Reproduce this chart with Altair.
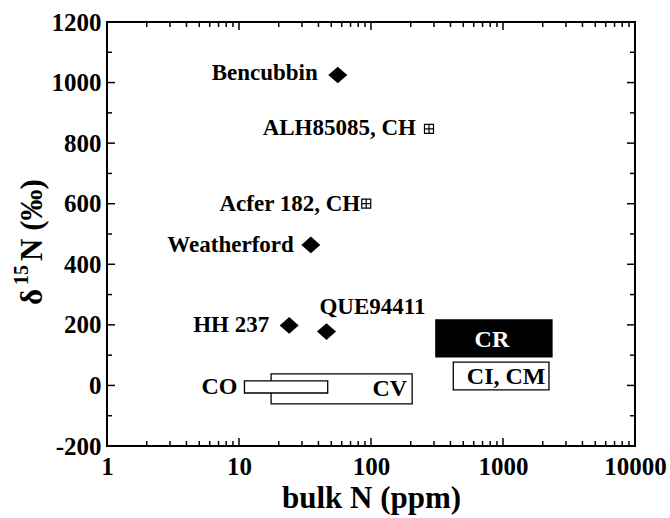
import altair as alt
import pandas as pd

# Individual meteorites: bulk nitrogen (ppm) and delta-15N (permil)
met_names = ["Bencubbin", "ALH85085, CH", "Acfer 182, CH", "Weatherford", "HH 237", "QUE94411"]
met_bulk_n = [56, 275, 92, 35, 24, 46]
met_d15n = [1025, 847, 600, 464, 198, 178]
met_class = ["CB", "CH", "CH", "CB", "CB", "CB"]

# Chondrite group fields: ranges of bulk N and delta-15N
grp_names = ["CV", "CO", "CI, CM", "CR"]
grp_n_min = [17.5, 11, 420, 310]
grp_n_max = [205, 47, 2230, 2350]
grp_d_min = [-61, -25, -15, 94]
grp_d_max = [38, 15, 77, 216]

# Axis ticks
x_major = [1, 10, 100, 1000, 10000]
x_minor = [m * 10 ** e for e in range(4) for m in range(2, 10)]
y_major = list(range(-200, 1201, 200))
y_minor = list(range(-100, 1200, 200))

met_df = pd.DataFrame({"name": met_names, "n": met_bulk_n, "d": met_d15n, "cls": met_class})
grp_df = pd.DataFrame({"group": grp_names, "n_min": grp_n_min, "n_max": grp_n_max,
                       "d_min": grp_d_min, "d_max": grp_d_max})
grp_df["n_mid"] = (grp_df["n_min"] * grp_df["n_max"]) ** 0.5
grp_df["d_mid"] = (grp_df["d_min"] + grp_df["d_max"]) / 2

W, H = 528, 424
FONT = "Liberation Serif"

xs = alt.Scale(type="log", domain=[1, 10000], nice=False)
ys = alt.Scale(domain=[-200, 1200], nice=False, zero=False)

x_axis = alt.Axis(values=x_major, labelExpr="'' + datum.value", ticks=False, domain=False,
                  grid=False, labelFont=FONT, labelFontWeight="bold", labelFontSize=25,
                  labelColor="black", labelPadding=8, labelFlush=False, labelOverlap=False,
                  title="bulk N (ppm)", titleFont=FONT, titleFontWeight="bold",
                  titleFontSize=31, titleColor="black", titleX=264, titleY=61,
                  titleAlign="center", titleBaseline="alphabetic")
y_axis = alt.Axis(values=y_major, labelExpr="'' + datum.value", ticks=False, domain=False,
                  grid=False, labelFont=FONT, labelFontWeight="bold", labelFontSize=25,
                  labelColor="black", labelPadding=6, labelOverlap=False, title=None)


def xq(field):
    return alt.X(f"{field}:Q", scale=xs, axis=x_axis)


def yq(field):
    return alt.Y(f"{field}:Q", scale=ys, axis=y_axis)


layers = []

# Group fields (CO drawn over CV)
layers.append(
    alt.Chart(grp_df).transform_filter(alt.datum.group != "CR")
    .mark_rect(fill="white", stroke="black", strokeWidth=1.3)
    .encode(x=xq("n_min"), x2=alt.X2("n_max:Q"), y=yq("d_min"), y2=alt.Y2("d_max:Q"))
)
layers.append(
    alt.Chart(grp_df).transform_filter(alt.datum.group == "CR")
    .mark_rect(fill="black", stroke="black", strokeWidth=1.3)
    .encode(x=xq("n_min"), x2=alt.X2("n_max:Q"), y=yq("d_min"), y2=alt.Y2("d_max:Q"))
)

# Meteorite symbols
DIAMOND = "M-1,0L0,-0.88L1,0L0,0.88Z"
BOXPLUS = "M-1,-1H1V1H-1ZM0,-1V1M-1,0H1"
layers.append(
    alt.Chart(met_df).transform_filter(alt.datum.cls != "CH")
    .mark_point(shape=DIAMOND, size=361, filled=True, color="black", opacity=1, strokeWidth=0)
    .encode(x=xq("n"), y=yq("d"))
)
layers.append(
    alt.Chart(met_df).transform_filter(alt.datum.cls == "CH")
    .mark_point(shape=BOXPLUS, size=81, filled=False, color="black", opacity=1, strokeWidth=1.2)
    .encode(x=xq("n"), y=yq("d"))
)

# Meteorite labels: (dx, dy, align)
met_label_style = {
    "Bencubbin": (-20, -2, "right"),
    "ALH85085, CH": (-13, -1, "right"),
    "Acfer 182, CH": (-6, 0, "right"),
    "Weatherford": (-17, 0, "right"),
    "HH 237": (-20, 0, "right"),
    "QUE94411": (-7, -25, "left"),
}
for nm, (dx, dy, al) in met_label_style.items():
    layers.append(
        alt.Chart(met_df).transform_filter(alt.datum.name == nm)
        .mark_text(dx=dx, dy=dy, align=al, baseline="middle", font=FONT, fontWeight="bold",
                   fontSize=23, color="black")
        .encode(x=xq("n"), y=yq("d"), text="name:N")
    )

# Group labels: (x field, dx, dy, align, colour)
grp_label_style = {
    "CO": ("n_min", -7, 0, "right", "black"),
    "CV": ("n_max", -5, 0, "right", "black"),
    "CR": ("n_mid", -2, 2, "center", "white"),
    "CI, CM": ("n_mid", 5, 1, "center", "black"),
}
for g, (xf, dx, dy, al, col) in grp_label_style.items():
    layers.append(
        alt.Chart(grp_df).transform_filter(alt.datum.group == g)
        .mark_text(dx=dx, dy=dy, align=al, baseline="middle", font=FONT, fontWeight="bold",
                   fontSize=24, color=col)
        .encode(x=xq(xf), y=yq("d_mid"), text="group:N")
    )

# Inward ticks on all four sides
MAJ, MIN = 8, 5
tick_sets = [(x_major, MAJ), (x_minor, MIN)]
for vals, ln in tick_sets:
    tdf = pd.DataFrame({"v": vals})
    layers.append(alt.Chart(tdf).mark_rule(color="black", strokeWidth=1.5)
                  .encode(x=xq("v"), y=alt.value(H), y2=alt.value(H - ln)))
    layers.append(alt.Chart(tdf).mark_rule(color="black", strokeWidth=1.5)
                  .encode(x=xq("v"), y=alt.value(0), y2=alt.value(ln)))
for vals, ln in [(y_major, MAJ), (y_minor, MIN)]:
    tdf = pd.DataFrame({"v": vals})
    layers.append(alt.Chart(tdf).mark_rule(color="black", strokeWidth=1.5)
                  .encode(y=yq("v"), x=alt.value(0), x2=alt.value(ln)))
    layers.append(alt.Chart(tdf).mark_rule(color="black", strokeWidth=1.5)
                  .encode(y=yq("v"), x=alt.value(W), x2=alt.value(W - ln)))

# Y axis title: delta, superscript 15, then "N (‰)", rotated
ytitle_parts = [("δ", 31, -65, 283), ("15", 20, -79, 263), ("N (‰)", 31, -65, 239)]
for txt, fs, px, py in ytitle_parts:
    layers.append(
        alt.Chart(pd.DataFrame({"t": [txt]}))
        .mark_text(angle=270, align="left", baseline="alphabetic", font=FONT,
                   fontWeight="bold", fontSize=fs, color="black")
        .encode(x=alt.value(px), y=alt.value(py), text="t:N")
    )

chart = (
    alt.layer(*layers)
    .properties(width=W, height=H, autosize=alt.AutoSizeParams(type="none"),
                padding={"left": 107, "top": 22, "right": 35, "bottom": 72},
                background="white")
    .configure_view(stroke="black", strokeWidth=2)
)

chart.save("out.html", embed_options={"renderer": "svg", "actions": False})
